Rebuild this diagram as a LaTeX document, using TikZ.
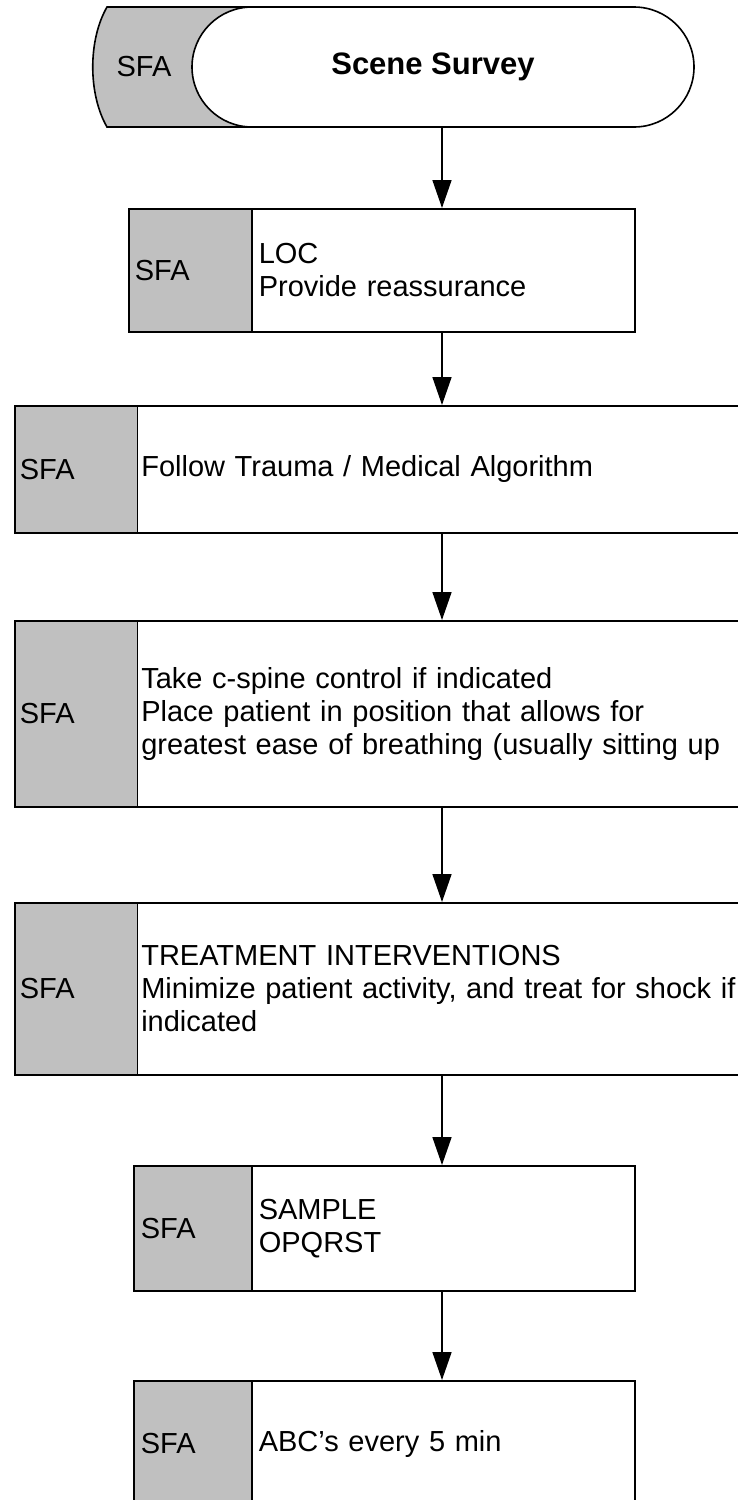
\documentclass[tikz,border=0pt]{standalone}
\usepackage{fontspec}
\setmainfont{Liberation Sans}
\usetikzlibrary{shapes.misc,arrows.meta}
\definecolor{sfagray}{HTML}{C0C0C0}
\begin{document}
\begin{tikzpicture}[x=1pt,y=-1pt,
  every node/.style={font=\fontsize{29}{33}\selectfont},
  outline/.style={draw=black,line width=1.6pt},
  graycell/.style={outline,fill=sfagray,rectangle,anchor=north west,
    align=left,inner ysep=0pt,inner xsep=6pt},
  textcell/.style={outline,fill=white,rectangle,anchor=north west,
    align=left,inner ysep=0pt,inner xsep=6pt},
  flow/.style={line width=1.6pt,-{Triangle[length=28pt,width=19pt]}}]
\clip (0,0) rectangle (738,1500);
\coordinate (axis) at (442,0);

% start terminator: grey tab behind a white stadium
\filldraw[outline,fill=sfagray] (107,7) .. controls (88,40) and (88,94) .. (107,127)
  -- (300,127) -- (300,7) -- cycle;
\node[anchor=west] (sfa1) at (113,67) {SFA};
\node[outline,fill=white,rounded rectangle,minimum width=502pt,
  minimum height=120pt,inner sep=0pt] (start) at (443,67)
  {\bfseries\fontsize{31}{33}\selectfont Scene Survey\hspace*{20pt}};

% step 2
\node[graycell,text width=111pt,minimum height=123pt] (g2) at (128,208) {SFA};
\node[textcell,inner xsep=7pt,text width=369pt,minimum height=123pt] (w2) at (251,208)
  {LOC\\Provide reassurance};

% step 3
\node[graycell,inner xsep=5pt,text width=112.5pt,minimum height=127pt] (g3) at (14,405) {SFA};
\node[textcell,inner xsep=4pt,text width=615pt,minimum height=127pt] (w3) at (136.5,405)
  {Follow Trauma / Medical Algorithm};

% step 4
\node[graycell,inner xsep=5pt,text width=112.5pt,minimum height=186pt] (g4) at (14,620) {SFA};
\node[textcell,inner xsep=4pt,text width=615pt,minimum height=186pt] (w4) at (136.5,620)
  {Take c-spine control if indicated\\Place patient in position that allows for\\greatest ease of breathing (usually sitting up};

% step 5
\node[graycell,inner xsep=5pt,text width=112.5pt,minimum height=172pt] (g5) at (14,902) {SFA};
\node[textcell,inner xsep=4pt,text width=615pt,minimum height=172pt] (w5) at (136.5,902)
  {TREATMENT INTERVENTIONS\\Minimize patient activity, and treat for shock if\\indicated};

% step 6
\node[graycell,inner xsep=7pt,text width=104pt,minimum height=125pt] (g6) at (133,1165) {SFA};
\node[textcell,inner xsep=7pt,text width=369pt,minimum height=125pt] (w6) at (251,1165)
  {SAMPLE\\OPQRST};

% step 7
\node[graycell,inner xsep=7pt,text width=104pt,minimum height=126pt] (g7) at (133,1380) {SFA};
\node[textcell,inner xsep=7pt,text width=369pt,minimum height=126pt] (w7) at (251,1380)
  {ABC’s every 5 min};

% connectors
\draw[flow] (start.south -| axis) -- (w2.north -| axis);
\draw[flow] (w2.south -| axis) -- (w3.north -| axis);
\draw[flow] (w3.south -| axis) -- (w4.north -| axis);
\draw[flow] (w4.south -| axis) -- (w5.north -| axis);
\draw[flow] (w5.south -| axis) -- (w6.north -| axis);
\draw[flow] (w6.south -| axis) -- (w7.north -| axis);
\end{tikzpicture}
\end{document}
